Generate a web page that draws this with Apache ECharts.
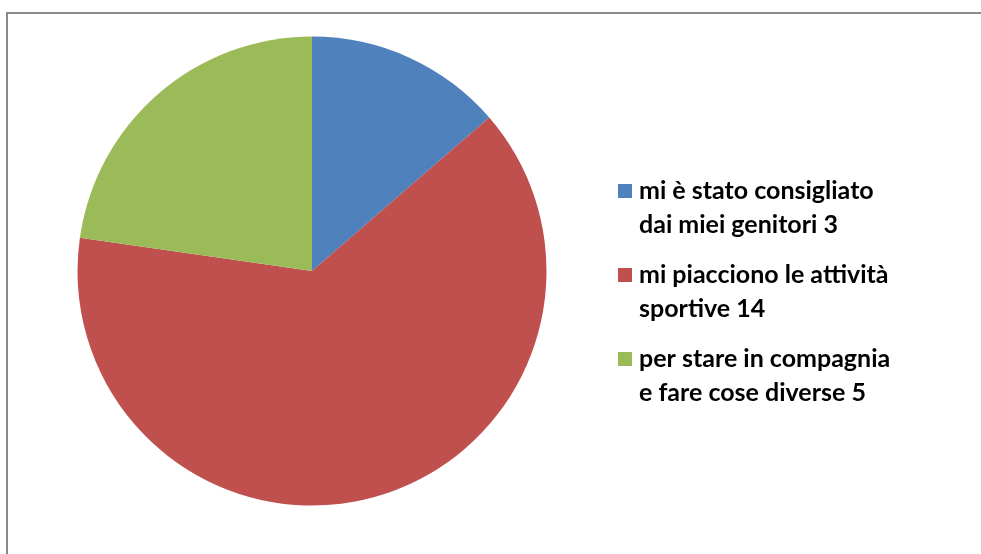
<!DOCTYPE html>
<html>
<head>
<meta charset="utf-8">
<script src="https://cdn.jsdelivr.net/npm/echarts@6/dist/echarts.min.js"></script>
<style>
  html, body { margin: 0; padding: 0; background: #fff; }
  #chart { width: 981px; height: 554px; }
</style>
</head>
<body>
<div id="chart"></div>
<script>
// dati del grafico
const categories = [
    'mi è stato consigliato\ndai miei genitori',
    'mi piacciono le attività\nsportive',
    'per stare in compagnia\ne fare cose diverse'
];
const values = [3, 14, 5];
const colors = ['#4F81BD', '#C0504D', '#9BBB59'];

const chart = echarts.init(document.getElementById('chart'));

const option = {
    animation: false,
    backgroundColor: '#fff',
    graphic: [{
        type: 'rect',
        shape: { x: 7, y: 13, width: 1000, height: 600 },
        style: { fill: 'none', stroke: '#8a8a8a', lineWidth: 2 }
    }],
    legend: {
        orient: 'vertical',
        left: 618,
        top: 174,
        padding: 0,
        itemGap: 16,
        itemWidth: 14,
        itemHeight: 48,
        // quadratino allineato alla prima riga del testo
        icon: 'path://M0,0H14V14H0Z M0,48L0.01,48',
        data: categories,
        formatter: function(name) {
            return name + ' ' + values[categories.indexOf(name)];
        },
        textStyle: {
            fontFamily: 'Lato',
            fontWeight: 'bold',
            fontSize: 25,
            lineHeight: 34,
            padding: [0, 0, 0, 2],
            color: '#000'
        }
    },
    series: [{
        type: 'pie',
        center: [312, 271],
        radius: 234.5,
        startAngle: 90,
        clockwise: true,
        label: { show: false },
        labelLine: { show: false },
        emphasis: { disabled: true },
        data: categories.map(function(c, i) {
            return { name: c, value: values[i], itemStyle: { color: colors[i] } };
        })
    }]
};

chart.setOption(option);
</script>
</body>
</html>
